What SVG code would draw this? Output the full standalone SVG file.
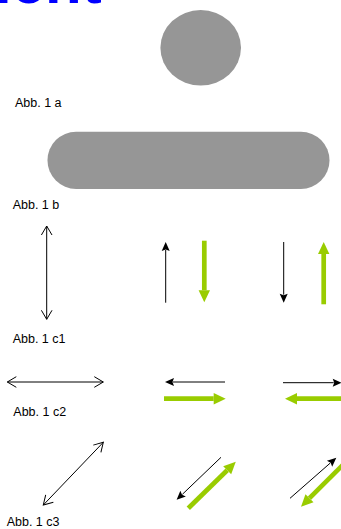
<svg xmlns="http://www.w3.org/2000/svg" width="341" height="529" viewBox="0 0 341 529">
  <style>
    .lbl { font-family: "Liberation Sans", Arial, sans-serif; font-size: 12.5px; fill: #000; }
    .title { font-family: "Liberation Sans", Arial, sans-serif; font-size: 60px; font-weight: bold; fill: #0000ff; }
    .shape { fill: #969696; }
    .thin { stroke: #000; stroke-width: 1; fill: none; }
    .thick { stroke: #99cc00; stroke-width: 4.7; fill: none; }
  </style>
  <defs>
    <marker id="open" markerUnits="userSpaceOnUse" markerWidth="12" markerHeight="14" refX="10" refY="6" orient="auto-start-reverse" overflow="visible">
      <path d="M1,0.7 L10,6 L1,11.3" fill="none" stroke="#000" stroke-width="1"/>
    </marker>
    <marker id="blk" markerUnits="userSpaceOnUse" markerWidth="10" markerHeight="10" refX="0" refY="4" orient="auto" overflow="visible">
      <path d="M-1,0 L8,4 L-1,8 L0.5,4 Z" fill="#000"/>
    </marker>
    <marker id="grn" markerUnits="userSpaceOnUse" markerWidth="14" markerHeight="14" refX="0" refY="5.7" orient="auto" overflow="visible">
      <path d="M0,0 L12,5.7 L0,11.4 Z" fill="#99cc00"/>
    </marker>
  </defs>

  <!-- heading, partly above the page -->
  <text class="title" x="-5" y="3">ient</text>

  <!-- 1 a: circle -->
  <g id="fig1a">
    <ellipse class="shape" cx="200.7" cy="47.8" rx="40.3" ry="37.8"/>
    <text class="lbl" x="15" y="107">Abb. 1 a</text>
  </g>

  <!-- 1 b: capsule -->
  <g id="fig1b">
    <rect class="shape" x="47.5" y="131.7" width="282" height="57.3" rx="28.6" ry="28.6"/>
    <text class="lbl" x="12.7" y="209">Abb. 1 b</text>
  </g>

  <!-- 1 c1: vertical arrows -->
  <g id="fig1c1">
    <line class="thin" x1="46.7" y1="226" x2="46.7" y2="319.3" marker-start="url(#open)" marker-end="url(#open)"/>
    <line class="thin" x1="165.7" y1="302.7" x2="165.7" y2="250" marker-end="url(#blk)"/>
    <line class="thick" x1="204.3" y1="240.7" x2="204.3" y2="290.3" marker-end="url(#grn)"/>
    <line class="thin" x1="283.7" y1="242" x2="283.7" y2="294.7" marker-end="url(#blk)"/>
    <line class="thick" x1="323.7" y1="304.3" x2="323.7" y2="254" marker-end="url(#grn)"/>
    <text class="lbl" x="12.7" y="343">Abb. 1 c1</text>
  </g>

  <!-- 1 c2: horizontal arrows -->
  <g id="fig1c2">
    <line class="thin" x1="7.3" y1="382" x2="103.3" y2="382" marker-start="url(#open)" marker-end="url(#open)"/>
    <line class="thin" x1="225" y1="382" x2="173" y2="382" marker-end="url(#blk)"/>
    <line class="thick" x1="164" y1="398.7" x2="213.7" y2="398.7" marker-end="url(#grn)"/>
    <line class="thin" x1="283" y1="382.7" x2="333.7" y2="382.7" marker-end="url(#blk)"/>
    <line class="thick" x1="345" y1="398.7" x2="297" y2="398.7" marker-end="url(#grn)"/>
    <text class="lbl" x="13.3" y="416">Abb. 1 c2</text>
  </g>

  <!-- 1 c3: diagonal arrows -->
  <g id="fig1c3">
    <line class="thin" x1="43.3" y1="505" x2="103.3" y2="442.3" marker-start="url(#open)" marker-end="url(#open)"/>
    <line class="thin" x1="221" y1="457.3" x2="182.4" y2="494.3" marker-end="url(#blk)"/>
    <line class="thick" x1="188.3" y1="508.3" x2="227.2" y2="470.2" marker-end="url(#grn)"/>
    <line class="thin" x1="290" y1="498.3" x2="330.3" y2="463" marker-end="url(#blk)"/>
    <line class="thick" x1="350" y1="457.7" x2="309.5" y2="498.2" marker-end="url(#grn)"/>
    <text class="lbl" x="6.7" y="526">Abb. 1 c3</text>
  </g>
</svg>
